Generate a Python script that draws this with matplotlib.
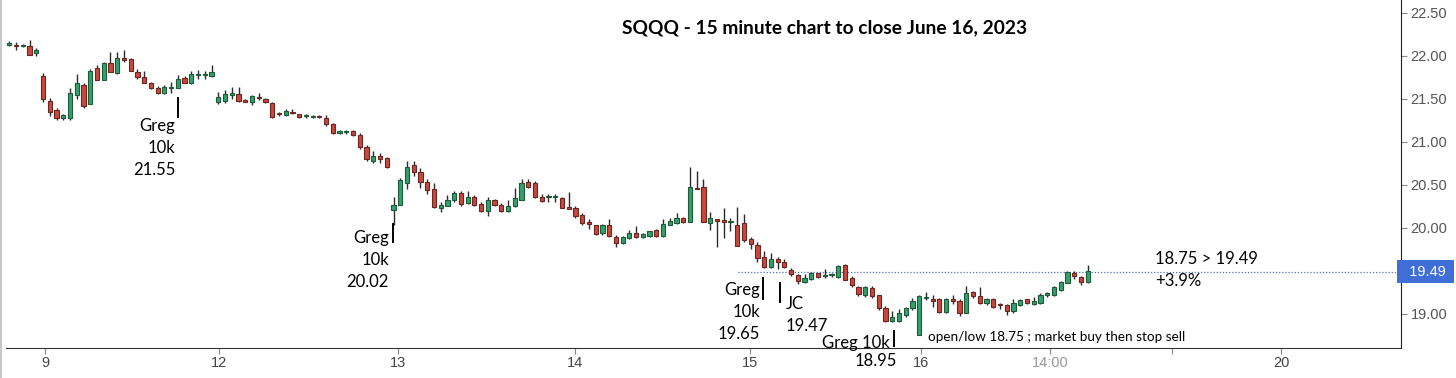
import matplotlib.pyplot as plt
import numpy as np

# 15 minute bars, SQQQ, June 8 (last bars) .. June 16 2023
opens = [22.13, 22.13, 22.11, 22.12, 22.03,
         21.77, 21.48, 21.37, 21.28, 21.28, 21.55, 21.66, 21.44, 21.86, 21.72, 21.92, 21.80, 21.98,
         21.96, 21.81, 21.76, 21.69, 21.63, 21.57, 21.63, 21.63, 21.74, 21.68, 21.78, 21.78, 21.77,
         21.46, 21.48, 21.54, 21.56, 21.48, 21.47, 21.52, 21.50, 21.45, 21.33, 21.31, 21.35, 21.33,
         21.30, 21.29, 21.30, 21.28, 21.21, 21.10, 21.12, 21.13, 21.08, 20.94, 20.78, 20.84, 20.81,
         20.21, 20.27, 20.52, 20.73, 20.65, 20.54, 20.45, 20.23, 20.26, 20.32, 20.41, 20.29, 20.36,
         20.28, 20.20, 20.32, 20.27, 20.20, 20.25, 20.33, 20.53, 20.52, 20.36, 20.36, 20.36, 20.35,
         20.24, 20.23, 20.15, 20.07, 20.03, 19.94, 20.03, 19.90, 19.82, 19.88, 19.94, 19.90, 19.91,
         19.98, 19.91, 20.04, 20.06, 20.12, 20.07, 20.47, 20.48, 20.06, 20.10, 20.09, 20.07, 20.03,
         20.06, 19.87, 19.80, 19.66, 19.55, 19.64, 19.61, 19.51, 19.45, 19.37, 19.41, 19.48, 19.44,
         19.45, 19.43, 19.57, 19.42, 19.31, 19.22, 19.30, 19.22, 19.07, 18.92, 18.92, 18.99, 19.07,
         18.76, 19.19, 19.17, 19.18, 19.02, 19.17, 19.15, 19.01, 19.25, 19.21, 19.13, 19.18, 19.11,
         19.11, 19.03, 19.10, 19.17, 19.12, 19.13, 19.22, 19.22, 19.28, 19.36, 19.48, 19.43, 19.37]
highs = [22.17, 22.16, 22.14, 22.19, 22.09,
         21.80, 21.51, 21.40, 21.33, 21.63, 21.79, 21.69, 21.85, 21.90, 21.93, 22.05, 22.05, 22.07,
         21.97, 21.85, 21.83, 21.70, 21.65, 21.66, 21.70, 21.78, 21.77, 21.82, 21.84, 21.82, 21.89,
         21.58, 21.60, 21.64, 21.64, 21.50, 21.55, 21.57, 21.51, 21.46, 21.35, 21.38, 21.38, 21.33,
         21.33, 21.31, 21.31, 21.31, 21.22, 21.14, 21.14, 21.14, 21.10, 20.96, 20.89, 20.87, 20.82,
         20.36, 20.58, 20.78, 20.78, 20.70, 20.57, 20.52, 20.30, 20.38, 20.43, 20.43, 20.43, 20.38,
         20.30, 20.36, 20.34, 20.29, 20.33, 20.46, 20.57, 20.57, 20.55, 20.39, 20.39, 20.39, 20.36,
         20.42, 20.25, 20.17, 20.10, 20.04, 20.05, 20.10, 19.92, 19.91, 19.98, 20.02, 19.94, 19.97,
         19.99, 20.10, 20.12, 20.17, 20.13, 20.71, 20.66, 20.57, 20.18, 20.10, 20.23, 20.12, 20.24,
         20.16, 19.89, 19.84, 19.73, 19.71, 19.66, 19.64, 19.53, 19.47, 19.47, 19.49, 19.48, 19.52,
         19.48, 19.57, 19.58, 19.44, 19.32, 19.32, 19.33, 19.22, 19.09, 19.03, 19.06, 19.08, 19.19,
         19.22, 19.25, 19.22, 19.19, 19.19, 19.22, 19.17, 19.33, 19.27, 19.31, 19.19, 19.19, 19.13,
         19.12, 19.18, 19.18, 19.18, 19.20, 19.24, 19.26, 19.32, 19.38, 19.50, 19.50, 19.44, 19.57]
lows = [22.12, 22.07, 22.10, 22.01, 22.00,
        21.46, 21.30, 21.26, 21.25, 21.25, 21.50, 21.40, 21.44, 21.72, 21.72, 21.81, 21.79, 21.93,
        21.82, 21.73, 21.68, 21.61, 21.56, 21.56, 21.57, 21.63, 21.68, 21.67, 21.73, 21.73, 21.76,
        21.44, 21.45, 21.50, 21.47, 21.47, 21.43, 21.49, 21.45, 21.28, 21.30, 21.30, 21.32, 21.28,
        21.28, 21.28, 21.28, 21.19, 21.09, 21.09, 21.09, 21.07, 20.92, 20.78, 20.75, 20.75, 20.70,
        20.04, 20.27, 20.45, 20.60, 20.47, 20.40, 20.23, 20.19, 20.25, 20.30, 20.26, 20.28, 20.26,
        20.18, 20.14, 20.26, 20.18, 20.18, 20.24, 20.32, 20.46, 20.35, 20.30, 20.30, 20.30, 20.23,
        20.22, 20.12, 20.04, 19.99, 19.92, 19.92, 19.90, 19.78, 19.81, 19.87, 19.88, 19.88, 19.90,
        19.90, 19.90, 20.03, 20.05, 20.06, 20.07, 20.45, 20.07, 19.98, 19.78, 19.88, 19.97, 19.79,
        19.84, 19.75, 19.60, 19.54, 19.53, 19.52, 19.53, 19.44, 19.35, 19.36, 19.40, 19.42, 19.42,
        19.43, 19.42, 19.40, 19.31, 19.21, 19.20, 19.19, 19.05, 18.91, 18.91, 18.91, 18.96, 19.05,
        18.75, 19.16, 19.08, 19.01, 19.01, 19.12, 18.98, 19.01, 19.19, 19.12, 19.11, 19.07, 19.06,
        18.99, 19.01, 19.09, 19.12, 19.11, 19.12, 19.20, 19.21, 19.27, 19.36, 19.41, 19.34, 19.36]
closes = [22.15, 22.11, 22.12, 22.01, 22.07,
          21.50, 21.35, 21.28, 21.31, 21.57, 21.68, 21.42, 21.83, 21.72, 21.92, 21.81, 21.98, 21.95,
          21.82, 21.76, 21.69, 21.63, 21.57, 21.64, 21.64, 21.73, 21.69, 21.79, 21.79, 21.79, 21.81,
          21.52, 21.56, 21.57, 21.48, 21.47, 21.53, 21.51, 21.46, 21.29, 21.32, 21.36, 21.34, 21.29,
          21.30, 21.30, 21.29, 21.21, 21.10, 21.13, 21.12, 21.08, 20.94, 20.80, 20.84, 20.80, 20.71,
          20.27, 20.56, 20.71, 20.65, 20.53, 20.44, 20.24, 20.27, 20.33, 20.41, 20.28, 20.36, 20.27,
          20.20, 20.32, 20.27, 20.20, 20.26, 20.35, 20.52, 20.48, 20.36, 20.31, 20.37, 20.365, 20.23,
          20.22, 20.14, 20.06, 20.05, 19.93, 20.03, 19.91, 19.83, 19.90, 19.94, 19.90, 19.93, 19.96,
          19.91, 20.05, 20.08, 20.12, 20.07, 20.48, 20.45, 20.07, 20.12, 20.08, 20.07, 20.08, 19.79,
          19.86, 19.81, 19.65, 19.55, 19.64, 19.61, 19.55, 19.46, 19.38, 19.42, 19.48, 19.43, 19.45,
          19.46, 19.56, 19.40, 19.34, 19.23, 19.31, 19.21, 19.07, 18.92, 18.96, 19.01, 19.07, 19.15,
          19.21, 19.20, 19.15, 19.02, 19.18, 19.15, 19.01, 19.24, 19.21, 19.13, 19.18, 19.08, 19.10,
          19.03, 19.13, 19.16, 19.13, 19.15, 19.22, 19.24, 19.31, 19.37, 19.49, 19.44, 19.37, 19.50]

tick_labels = ['9', '12', '13', '14', '15', '16', '14:00', '', '20']
tick_pos = [5.3, 31.1, 57.7, 83.9, 109.9, 135.3, 154.4, 172.5, 188.7]
yticks = [19.0, 20.0, 20.5, 21.0, 21.5, 22.0, 22.5]
last_price = 19.49

plt.rcParams['font.family'] = ['Lato', 'DejaVu Sans']

o = np.array(opens)
h = np.array(highs)
l = np.array(lows)
c = np.array(closes)
x = np.arange(len(o))
up = c >= o

fig = plt.figure(figsize=(14.56, 3.78), dpi=100)
ax = fig.add_axes([6/1456, 1 - 348/378, (1401 - 6)/1456, 348/378])

# wicks then bodies
ax.vlines(x, l, h, color='#2b2b2b', linewidth=1.0, zorder=2)
body_low = np.minimum(o, c)
body_h = np.maximum(np.abs(c - o), 0.012)
ax.bar(x[up], body_h[up], bottom=body_low[up], width=0.62,
       color='#34a06c', edgecolor='#1c5a3a', linewidth=0.8, zorder=3)
ax.bar(x[~up], body_h[~up], bottom=body_low[~up], width=0.62,
       color='#c9483e', edgecolor='#6d2520', linewidth=0.8, zorder=3)

ax.set_xlim(-0.5, 206.5)
ax.set_ylim(22.5 - (348 - 13)/86, 22.65)

# last price line + box
ax.hlines(last_price, 108.1, 206.5, colors='#4c6fc4', linestyles=(0, (1, 1.5)), linewidth=0.9, zorder=1)
ax.text(1.0, last_price, '  19.49 ', transform=ax.get_yaxis_transform(), ha='left', va='center',
        color='white', fontsize=10.5, family='Liberation Sans', clip_on=False,
        bbox=dict(boxstyle='square,pad=0.3', facecolor='#3f6fd6', edgecolor='none'))

# axes styling
for s in ['left', 'top']:
    ax.spines[s].set_visible(False)
ax.spines['right'].set_color('#222222')
ax.spines['bottom'].set_color('#333333')
ax.yaxis.tick_right()
ax.set_yticks(yticks)
ax.set_yticklabels(['%.2f' % v for v in yticks], family='Liberation Sans', fontsize=10.5, color='#555555')
ax.tick_params(axis='y', direction='out', length=4, color='#888888', pad=3)
ax.set_xticks(tick_pos)
ax.set_xticklabels(tick_labels, family='Liberation Sans', fontsize=10.5, color='#444444')
ax.get_xticklabels()[6].set_color('#999999')
ax.tick_params(axis='x', direction='out', length=4, color='#888888', pad=2)

# trade notes
def note(xt, y0, lines, ha, step=0.256, size=12):
    for k, t in enumerate(lines):
        ax.text(xt, y0 - k * step, t, ha=ha, va='center', fontsize=size, color='black', clip_on=False)

ax.vlines([25.0, 56.9, 111.8, 114.4, 131.3],
          [21.28, 19.83, 19.16, 19.13, 18.62],
          [21.52, 20.06, 19.43, 19.37, 18.81], colors='black', linewidth=1.4, zorder=4)
note(24.6, 21.19, ['Greg', '10k', '21.55'], 'right')
note(56.3, 19.88, ['Greg', '10k', '20.02'], 'right')
note(111.4, 19.28, ['Greg', '10k', '19.65'], 'right')
note(115.2, 19.12, ['JC', '19.47'], 'left')
note(130.6, 18.66, ['Greg 10k'], 'right')
note(128.6, 18.45, ['18.95'], 'center')
note(136.3, 18.73, ['open/low 18.75 ; market buy then stop sell'], 'left', size=9.7)
note(170.0, 19.64, ['18.75 > 19.49', '+3.9%'], 'left')

fig.text(825/1456, 1 - 28/378, 'SQQQ - 15 minute chart to close June 16, 2023',
         ha='center', va='center', fontsize=13.8, fontweight='bold')

# light frame of the screenshot
fig.add_artist(plt.Line2D([1/1456, 1/1456], [0, 1], color='#c8c8c8', linewidth=1.5))

fig.savefig('out.png', dpi=100)
